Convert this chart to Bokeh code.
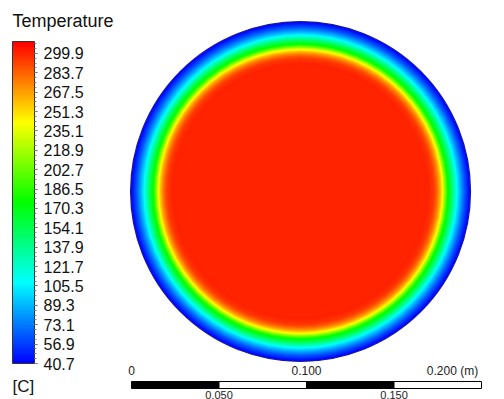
import numpy as np
from bokeh.plotting import figure
from bokeh.models import (ColumnDataSource, LinearColorMapper, ColorBar, FixedTicker,
                          PrintfTickFormatter, Label, Range1d, AllLabels)
from bokeh.transform import transform
from bokeh.embed import file_html
from bokeh.resources import INLINE

# ---- data ----
legend_ticks = [299.9, 283.7, 267.5, 251.3, 235.1, 218.9, 202.7, 186.5, 170.3,
                154.1, 137.9, 121.7, 105.5, 89.3, 73.1, 56.9, 40.7]
# radial temperature profile: distance from the wall (mm) -> temperature (C)
wall_dist_mm = [0.0, 1.7, 3.4, 5.1, 6.9, 8.0, 9.7, 11.4, 12.6, 13.7, 14.9,
                16.0, 17.1, 18.3, 19.4, 21.1, 24.0, 97.1]
temp_c = [40.7, 52, 66, 82, 100, 115, 138, 160, 175, 195, 222,
          245, 262, 275, 285, 295, 299.9, 299.9]
disk_radius_m = 0.0971
scale_ticks = [0.0, 0.05, 0.10, 0.15, 0.20]
scale_top_pos = [0.0, 0.10, 0.20]
scale_top_text = ["0", "0.100", "0.200  (m)"]
scale_bot_pos = [0.05, 0.15]
scale_bot_text = ["0.050", "0.150"]

# ---- colour map (blue - cyan - green - yellow - red) ----
stops = np.array([[0, 0, 255], [0, 255, 255], [0, 255, 0], [255, 255, 0], [255, 0, 0]], float)
pos = np.linspace(0, 1, len(stops))
t = np.linspace(0, 1, 256)
rgb = np.stack([np.interp(t, pos, stops[:, k]) for k in range(3)], axis=1).astype(int)
palette = ["#%02x%02x%02x" % tuple(c) for c in rgb]
mapper = LinearColorMapper(palette=palette, low=40.7, high=309.9)

W, H = 504, 399
PPM = 1750.0  # pixels per metre
x0 = -131 / PPM
y1 = 191 / PPM
p = figure(width=W, height=H, output_backend="svg", toolbar_location=None,
           x_axis_type=None, y_axis_type=None, min_border=0,
           x_range=Range1d(x0, x0 + W / PPM), y_range=Range1d(y1 - H / PPM, y1))
p.outline_line_color = None
p.background_fill_color = "white"
p.border_fill_color = "white"

# ---- disk drawn as concentric filled circles ----
cx, cy = 0.0966, 0.0
rr = np.arange(disk_radius_m, disk_radius_m - 0.0255, -0.00025)
tt = np.interp((disk_radius_m - rr) * 1000.0, wall_dist_mm, temp_c)
src = ColumnDataSource(dict(x=[cx] * len(rr), y=[cy] * len(rr), r=rr, T=tt))
p.circle(x="x", y="y", radius="r", source=src, fill_color=transform("T", mapper),
         line_color=None)
p.circle(x=[cx], y=[cy], radius=[disk_radius_m], fill_color=None,
         line_color="#1818a8", line_width=1.3)

# ---- scale bar ----
sb_bottom = y1 - 388 / PPM
sb_top = y1 - 381 / PPM
p.quad(left=scale_ticks[:-1], right=scale_ticks[1:], bottom=sb_bottom, top=sb_top,
       fill_color=["black", "white", "black", "white"], line_color="black", line_width=1)
ty = y1 - 370 / PPM
p.text(x=scale_top_pos[:2], y=[ty] * 2, text=scale_top_text[:2], text_align="center",
       text_baseline="middle", text_font_size="12px", text_color="#222222",
       text_font={"value": "Liberation Sans"})
p.text(x=scale_top_pos[2:], y=[ty], text=scale_top_text[2:], text_align="right",
       text_baseline="middle", text_font_size="12px", text_color="#222222",
       text_font={"value": "Liberation Sans"})
p.text(x=scale_bot_pos, y=[sb_bottom - 2 / PPM] * 2, text=scale_bot_text, text_align="center",
       text_baseline="top", text_font_size="11px", text_color="#222222",
       text_font={"value": "Liberation Sans"})

# ---- colour legend ----
minor = [40.7 + k * 4.05 for k in range(67)]
cb = ColorBar(color_mapper=mapper,
              ticker=FixedTicker(ticks=legend_ticks, minor_ticks=minor),
              formatter=PrintfTickFormatter(format="%.1f"),
              major_label_policy=AllLabels(),
              orientation="vertical", location=(12, 36), width=22, height=322,
              padding=0, margin=0,
              major_label_text_font="Liberation Sans", major_label_text_font_size="16px",
              major_label_text_color="#111111", label_standoff=6,
              major_tick_in=0, major_tick_out=3, major_tick_line_color="#555555",
              minor_tick_in=0, minor_tick_out=2, minor_tick_line_color="#888888",
              bar_line_color="#333333", border_line_color=None,
              background_fill_alpha=0)
p.add_layout(cb)
p.add_layout(Label(x=12, y=379, x_units="screen", y_units="screen", text="Temperature",
                   text_font="Liberation Sans", text_font_size="18px",
                   text_baseline="middle", text_color="#111111"))
p.add_layout(Label(x=12, y=13, x_units="screen", y_units="screen", text="[C]",
                   text_font="Liberation Sans", text_font_size="17px",
                   text_baseline="middle", text_color="#111111"))

open("out.html", "w").write(file_html(p, INLINE))
